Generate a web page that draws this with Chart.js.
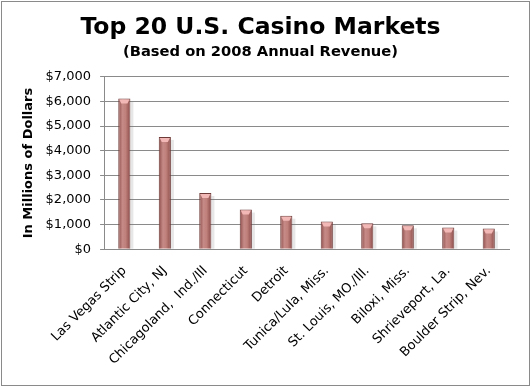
<!DOCTYPE html>
<html>
<head>
<meta charset="utf-8">
<script src="https://cdn.jsdelivr.net/npm/chart.js@4.4.0/dist/chart.umd.min.js"></script>
<style>
    body { margin: 0; background: #fff; }
    #wrap { position: absolute; left: 1px; top: 1px; width: 527px; height: 383px; border: 1px solid #8a8a8a; }
</style>
</head>
<body>
<div id="wrap"><canvas id="graph"></canvas></div>
<script>
// values, millions of dollars
const markets = ['Las Vegas Strip', 'Atlantic City, NJ', 'Chicagoland,  Ind./Ill', 'Connecticut', 'Detroit',
    'Tunica/Lula, Miss.', 'St. Louis, MO./Ill.', 'Biloxi, Miss.', 'Shrieveport, La.', 'Boulder Strip, Nev.'];
const revenue = [6120, 4560, 2280, 1610, 1360, 1130, 1050, 970, 880, 840];
const yTicks = [0, 1000, 2000, 3000, 4000, 5000, 6000, 7000];

const FONT = "'DejaVu Sans', Verdana, sans-serif";

function barFill(ctx) {
    const chart = ctx.chart;
    const x = chart.scales.x;
    if (!x || ctx.dataIndex === undefined) return '#b87470';
    const cx = x.getPixelForValue(ctx.dataIndex);
    const w = x.width / markets.length * 0.3;
    if (!isFinite(cx) || !isFinite(w) || w <= 0) return '#b87470';
    const g = chart.ctx.createLinearGradient(cx - w / 2, 0, cx + w / 2, 0);
    g.addColorStop(0, '#8e4e4b');
    g.addColorStop(0.35, '#c68a86');
    g.addColorStop(0.6, '#c0807c');
    g.addColorStop(1, '#8a4a47');
    return g;
}

// light cap + soft shadow so the bars look like the cylinders in the original
const cylinder = {
    id: 'cylinder',
    beforeDatasetsDraw(chart) {
        const c = chart.ctx;
        chart.getDatasetMeta(0).data.forEach(bar => {
            const w = bar.width;
            c.save();
            c.fillStyle = 'rgba(120,120,120,0.18)';
            c.fillRect(bar.x + w / 2, bar.y + 3, 3, bar.base - bar.y - 3);
            c.restore();
        });
    },
    afterDatasetsDraw(chart) {
        const c = chart.ctx;
        chart.getDatasetMeta(0).data.forEach(bar => {
            const w = bar.width;
            c.save();
            c.fillStyle = '#f2b8b6';
            c.beginPath();
            c.moveTo(bar.x - w / 2 + 1, bar.y + 1);
            c.lineTo(bar.x + w / 2 - 1, bar.y + 1);
            c.lineTo(bar.x + w / 2 - 3, bar.y + 5);
            c.lineTo(bar.x - w / 2 + 3, bar.y + 5);
            c.closePath();
            c.fill();
            c.restore();
        });
    }
};

const graph = new Chart(document.getElementById('graph'), {
    type: 'bar',
    data: {
        labels: markets,
        datasets: [{
            data: revenue,
            backgroundColor: barFill,
            borderColor: '#6e3b39',
            borderWidth: 1,
            categoryPercentage: 1,
            barPercentage: 0.3
        }]
    },
    options: {
        responsive: true,
        maintainAspectRatio: false,
        animation: false,
        layout: { padding: { left: 10, right: 20, top: 0, bottom: 11 } },
        plugins: {
            legend: { display: false },
            tooltip: { enabled: false },
            title: {
                display: true,
                text: 'Top 20 U.S. Casino Markets',
                color: '#000',
                font: { family: FONT, size: 23.5, weight: 'bold' },
                padding: { top: 12, bottom: 1 }
            },
            subtitle: {
                display: true,
                text: '(Based on 2008 Annual Revenue)',
                color: '#000',
                font: { family: FONT, size: 14.7, weight: 'bold' },
                padding: { top: 0, bottom: 16 }
            }
        },
        scales: {
            x: {
                grid: { display: false },
                border: { color: '#8a8a8a' },
                ticks: {
                    color: '#000',
                    font: { family: FONT, size: 13 },
                    minRotation: 45,
                    maxRotation: 45,
                    autoSkip: false,
                    padding: 6
                }
            },
            y: {
                min: 0,
                max: 7000,
                afterBuildTicks: axis => { axis.ticks = yTicks.map(v => ({ value: v })); },
                grid: { color: '#8a8a8a', tickLength: 4 },
                border: { color: '#8a8a8a' },
                ticks: {
                    color: '#000',
                    font: { family: FONT, size: 13 },
                    padding: 9,
                    callback: v => '$' + v.toLocaleString('en-US')
                },
                title: {
                    display: true,
                    text: 'In Millions of Dollars',
                    color: '#000',
                    font: { family: FONT, size: 13, weight: 'bold' },
                    padding: { top: 9, bottom: 0 }
                }
            }
        }
    },
    plugins: [cylinder]
});
</script>
</body>
</html>
